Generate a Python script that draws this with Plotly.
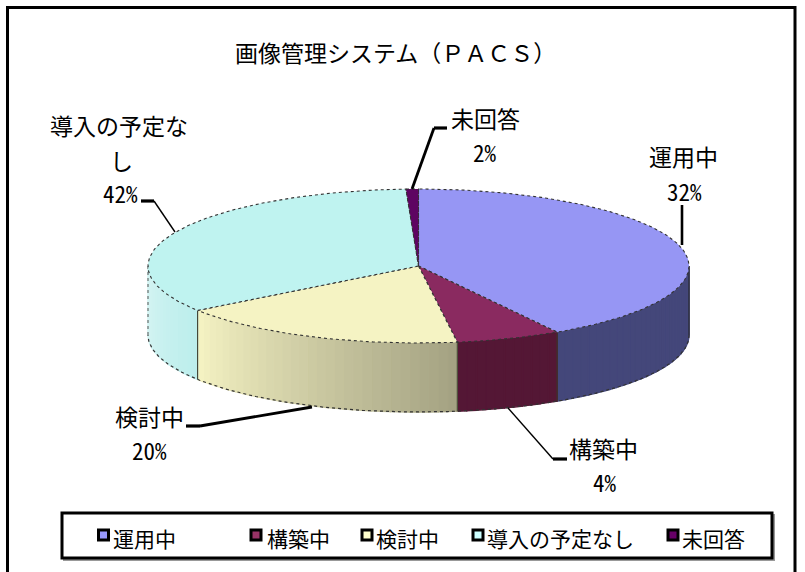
import math
import plotly.graph_objects as go

categories = ["運用中", "構築中", "検討中", "導入の予定なし", "未回答"]
label_pct = [32, 4, 20, 42, 2]
# slice shares as drawn in the picture (%), read from the edge positions
drawn_share = [41.44, 6.27, 17.5, 34.05, 0.74]
top_colors = ["#9696F4", "#8A2A60", "#F5F3C3", "#BFF3F0", "#5E0562"]
legend_colors = ["#9999FF", "#993366", "#FFFFCC", "#CCFFFF", "#660066"]
side_left = ["#44477A", "#541735", "#F5F3C3", "#D6F4F3", "#5E0562"]
side_right = ["#44477A", "#541735", "#A3A182", "#BCEEEC", "#5E0562"]
title = "画像管理システム（ＰＡＣＳ）"

CX, CY, RX, RY, DEPTH = 418.5, 266, 270.5, 77, 69
FONT = "Noto Sans CJK JP"
PCT_FONT = "Noto Sans Mono CJK JP, Liberation Mono"


def pt(deg, drop=0):
    a = math.radians(deg)
    return CX + RX * math.sin(a), CY - RY * math.cos(a) + drop


def hexmix(c1, c2, t):
    v1 = [int(c1[i:i + 2], 16) for i in (1, 3, 5)]
    v2 = [int(c2[i:i + 2], 16) for i in (1, 3, 5)]
    return "rgb(%d,%d,%d)" % tuple(round(a + (b - a) * t) for a, b in zip(v1, v2))


def span(a, b, step=1.0):
    n = max(2, int(abs(b - a) / step) + 1)
    return [a + (b - a) * i / (n - 1) for i in range(n)]


fig = go.Figure()
total = sum(drawn_share)
edges = [0.0]
for s in drawn_share:
    edges.append(edges[-1] + s / total * 360)


def poly(xs, ys, fill, line=None, width=0, dash="solid"):
    fig.add_trace(go.Scatter(
        x=xs, y=ys, mode="lines", fill="toself", fillcolor=fill,
        line=dict(color=line or fill, width=width if line else 1.4, dash=dash),
        hoverinfo="skip", showlegend=False))


def line(xs, ys, width=1.0, color="#000", dash="solid"):
    fig.add_trace(go.Scatter(x=xs, y=ys, mode="lines",
                             line=dict(color=color, width=width, dash=dash),
                             hoverinfo="skip", showlegend=False))


# side wall, visible only on the near half of the ellipse
for i in range(len(categories)):
    a0, b0 = max(edges[i], 90), min(edges[i + 1], 270)
    if b0 <= a0:
        continue
    angles = span(a0, b0, 2.0)
    for k in range(len(angles) - 1):
        p, q = angles[k], angles[k + 1]
        t = 1 - (k + .5) / (len(angles) - 1)
        c = hexmix(side_left[i], side_right[i], t)
        pts = [pt(p), pt(q), pt(q, DEPTH), pt(p, DEPTH), pt(p)]
        poly([v[0] for v in pts], [v[1] for v in pts], c)
    # vertical seam
    for e in (edges[i], edges[i + 1]):
        if 90 < e < 270:
            u, w = pt(e), pt(e, DEPTH)
            line([u[0], w[0]], [u[1], w[1]], 1, "#3a3a2a")

# outer edges of the wall
ang = span(90, 270, 1.0)
line([pt(a, DEPTH)[0] for a in ang], [pt(a, DEPTH)[1] for a in ang], 1.2, "#333", "dot")
lft = [pt(270), pt(270, DEPTH)]
line([v[0] for v in lft], [v[1] for v in lft], 1, "#555", "dot")
rgt = [pt(90), pt(90, DEPTH)]
line([v[0] for v in rgt], [v[1] for v in rgt], 1, "#222")

# top face
for i in range(len(categories)):
    angles = span(edges[i], edges[i + 1], 1.0)
    pts = [(CX, CY)] + [pt(a) for a in angles] + [(CX, CY)]
    poly([v[0] for v in pts], [v[1] for v in pts], top_colors[i], "#333", 1.1, "dot")

# leader lines: (xs, ys, width)
leaders = [
    ([682, 682], [205, 245], 2.6),
    ([508, 553], [408, 459], 1.4),
    ([553, 567], [459, 459], 3.2),
    ([312, 200], [407, 426], 2.8),
    ([200, 186], [426, 426], 3.2),
    ([141, 154], [201, 201], 3.2),
    ([154, 175], [201, 232], 1.4),
    ([412, 434], [189, 128], 2.8),
    ([434, 447], [128, 128], 3.2),
]
for xs, ys, w in leaders:
    line(xs, ys, w)

# outer frame + legend frame
shapes = [
    dict(type="path", path="M 7.5 572 L 7.5 7.5 L 795 7.5 L 795 572",
         line=dict(color="#000", width=3), layer="above"),
    dict(type="rect", x0=64, y0=515, x1=774, y1=560,
         line=dict(color="#999", width=2), layer="below"),
    dict(type="rect", x0=62, y0=513, x1=772, y1=558, fillcolor="#fff",
         line=dict(color="#000", width=3), layer="below"),
]

annotations = []


def text(x, y, s, size=23, anchor="center", family=FONT):
    annotations.append(dict(x=x, y=y, text=s, showarrow=False, xanchor=anchor,
                            yanchor="middle", font=dict(family=family, size=size, color="#000")))


text(395, 52, title, 23)
label_pos = [(683, 156, 684, 191), (603, 448, 605, 482), (149, 416, 149, 450),
             (119, 125, 120, 193), (485, 118, 485, 152)]
for i, (x, y, x2, y2) in enumerate(label_pos):
    if categories[i] == "導入の予定なし":
        text(x, y, "導入の予定な", 23)
        text(121, y + 35, "し", 23)
    else:
        text(x, y, categories[i], 23)
    text(x2, y2, f"{label_pct[i]}%", 23, family=PCT_FONT)

legend_mx = [103.5, 256, 367, 478, 673]
legend_tx = [111, 265, 374, 485, 680]
for mx, tx, name, c in zip(legend_mx, legend_tx, categories, legend_colors):
    fig.add_trace(go.Scatter(x=[mx], y=[535], mode="markers",
                             marker=dict(symbol="square", size=10, color=c, line=dict(color="#000", width=3)),
                             hoverinfo="skip", showlegend=False))
    text(tx, 538, name, 21, "left")

fig.update_layout(
    width=805, height=572, margin=dict(l=0, r=0, t=0, b=0),
    paper_bgcolor="#fff", plot_bgcolor="#fff",
    xaxis=dict(range=[0, 805], visible=False, fixedrange=True),
    yaxis=dict(range=[572, 0], visible=False, fixedrange=True),
    shapes=shapes, annotations=annotations, showlegend=False,
)
fig.write_html("out.html", config=dict(displayModeBar=False),
               post_script="document.body.style.margin='0';document.body.style.overflow='hidden';")
